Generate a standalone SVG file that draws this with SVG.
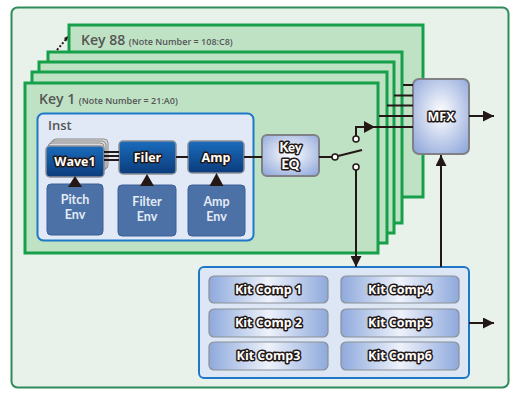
<svg xmlns="http://www.w3.org/2000/svg" width="515" height="400" viewBox="0 0 515 400">
<style>
.key{fill:#bfe2c5;stroke:#16a04a;stroke-width:3}
.ktitle{font-family:"Open Sans","Noto Sans",sans-serif;font-size:14px;fill:#555;font-weight:600}
.ksub{font-size:9px}
.dark{fill:url(#gDark);stroke:#8a8f96;stroke-width:1.5}
.env{fill:#4b71a6;stroke:#3d6197;stroke-width:1}
.envt{font-family:Lato,"Liberation Sans",sans-serif;font-size:12.5px;font-weight:700;fill:#e4ebf6;text-anchor:middle}
.ot{font-family:"Open Sans","Noto Sans",sans-serif;font-weight:700;fill:#fff;stroke:#231815;stroke-width:3;paint-order:stroke;stroke-linejoin:round;text-anchor:middle}
.ot2{font-family:Lato,"Liberation Sans",sans-serif;font-weight:900;fill:#fff;stroke:#231815;stroke-width:3;paint-order:stroke;stroke-linejoin:round;text-anchor:middle}
.ln{stroke:#231815;stroke-width:2;fill:none}
.comp{fill:url(#gComp);stroke:#8a8f96;stroke-width:1.2}
.card{fill:#dcdcdc;stroke:#8a8a8a;stroke-width:1}
.tri{fill:#231815}
</style>
<defs>
<linearGradient id="gDark" x1="0" y1="0" x2="0" y2="1">
<stop offset="0" stop-color="#1a6cbc"/>
<stop offset="1" stop-color="#0b3c7c"/>
</linearGradient>
<radialGradient id="gFx" cx="0.5" cy="0.45" r="0.7">
<stop offset="0" stop-color="#ffffff"/>
<stop offset="1" stop-color="#8ea6da"/>
</radialGradient>
<linearGradient id="gComp" x1="0" y1="0" x2="1" y2="0">
<stop offset="0" stop-color="#8ea9dc"/>
<stop offset="0.5" stop-color="#eef2fb"/>
<stop offset="1" stop-color="#8ea9dc"/>
</linearGradient>
<marker id="ah" viewBox="0 0 10 10" refX="10" refY="5" markerWidth="11" markerHeight="11" markerUnits="userSpaceOnUse" orient="auto">
<path d="M0,0 L10,5 L0,10 Z" fill="#231815"/>
</marker>
</defs>

<rect id="frame" x="11.5" y="7.5" width="497" height="380" rx="6" fill="#e8f2eb" stroke="#2e8b5a" stroke-width="2"/>

<g id="key88">
<rect class="key" x="69" y="25" width="354" height="172"/>
<text class="ktitle" x="81" y="45">Key 88 <tspan class="ksub">(Note Number = 108:C8)</tspan></text>
</g>
<g id="key-layer2"><rect class="key" x="48" y="52" width="354" height="171"/></g>
<g id="key-layer3"><rect class="key" x="39" y="62" width="355" height="171"/></g>
<g id="key-layer4"><rect class="key" x="32" y="72" width="355" height="171"/></g>
<g id="key1">
<rect class="key" x="25" y="83" width="353" height="170"/>
<text class="ktitle" x="39" y="104">Key 1 <tspan class="ksub">(Note Number = 21:A0)</tspan></text>
</g>

<g id="inst">
<rect x="37.5" y="113.5" width="216" height="127" rx="6" fill="#e1e8f6" stroke="#1e78c8" stroke-width="2"/>
<text x="48" y="130" font-family="'Open Sans','Noto Sans',sans-serif" font-size="13" font-weight="600" fill="#555">Inst</text>
</g>

<g id="wave1">
<rect class="card" x="52" y="139" width="56" height="30" rx="4"/>
<rect class="card" x="50" y="141" width="56" height="30" rx="4"/>
<rect class="card" x="48" y="143" width="56" height="31" rx="4"/>
<rect class="dark" x="46" y="146" width="58" height="31" rx="4"/>
<text class="ot" x="75" y="166" font-size="12.5">Wave1</text>
</g>
<g id="filer">
<rect class="dark" x="119" y="141" width="57" height="33" rx="4"/>
<text class="ot" x="147.5" y="162" font-size="12.5">Filer</text>
</g>
<g id="amp">
<rect class="dark" x="188" y="141" width="56" height="32" rx="4"/>
<text class="ot" x="216" y="162" font-size="12.5">Amp</text>
</g>
<g id="pitch-env">
<rect class="env" x="47" y="184" width="56" height="51" rx="4"/>
<text class="envt" x="75" y="204">Pitch</text>
<text class="envt" x="75" y="219">Env</text>
</g>
<g id="filter-env">
<rect class="env" x="118" y="185" width="58" height="51" rx="4"/>
<text class="envt" x="147" y="206">Filter</text>
<text class="envt" x="147" y="221">Env</text>
</g>
<g id="amp-env">
<rect class="env" x="188" y="185" width="57" height="51" rx="4"/>
<text class="envt" x="216.5" y="206">Amp</text>
<text class="envt" x="216.5" y="221">Env</text>
</g>

<g id="key-eq">
<rect x="262" y="135" width="57" height="41" rx="5" fill="url(#gFx)" stroke="#7f8186" stroke-width="2"/>
<text class="ot2" x="290.5" y="152" font-size="13">Key</text>
<text class="ot2" x="290.5" y="169" font-size="13">EQ</text>
</g>

<g id="mfx">
<rect x="413" y="79" width="56" height="75" rx="6" fill="url(#gFx)" stroke="#7f8186" stroke-width="2"/>
<text class="ot" x="441" y="121" font-size="12.5">MFX</text>
</g>

<g id="kit-comps">
<rect x="199" y="267" width="270" height="111" rx="5" fill="#dde6f5" stroke="#1e78c8" stroke-width="2"/>
<rect class="comp" x="209" y="276" width="119" height="27" rx="5"/>
<rect class="comp" x="209" y="309" width="119" height="28" rx="5"/>
<rect class="comp" x="209" y="342" width="119" height="28" rx="5"/>
<rect class="comp" x="341" y="276" width="118" height="27" rx="5"/>
<rect class="comp" x="341" y="309" width="118" height="28" rx="5"/>
<rect class="comp" x="341" y="342" width="118" height="28" rx="5"/>
<text class="ot" x="268.5" y="294" font-size="12.5">Kit Comp 1</text>
<text class="ot" x="268.5" y="327" font-size="12.5">Kit Comp 2</text>
<text class="ot" x="268.5" y="360" font-size="12.5">Kit Comp3</text>
<text class="ot" x="400" y="294" font-size="12.5">Kit Comp4</text>
<text class="ot" x="400" y="327" font-size="12.5">Kit Comp5</text>
<text class="ot" x="400" y="360" font-size="12.5">Kit Comp6</text>
</g>

<g id="connectors">
<line class="ln" x1="57" y1="50" x2="67" y2="38" stroke-dasharray="2,2"/>
<path d="M68,36 L64,38 L67,41 Z" fill="#231815"/>
<line class="ln" x1="104" y1="152" x2="119" y2="152"/>
<line class="ln" x1="104" y1="156" x2="119" y2="156"/>
<line class="ln" x1="104" y1="160" x2="119" y2="160"/>
<line class="ln" x1="176" y1="157" x2="188" y2="157"/>
<line class="ln" x1="244" y1="157" x2="262" y2="157"/>
<path class="tri" d="M75,176 L68,187 L82,187 Z"/>
<path class="tri" d="M147,174 L140,186 L154,186 Z"/>
<path class="tri" d="M216.5,173 L209.5,186 L223.5,186 Z"/>
<line class="ln" x1="319" y1="157" x2="332" y2="157"/>
<line class="ln" x1="338" y1="156" x2="362" y2="150"/>
<circle cx="335" cy="157" r="3" fill="#fff" stroke="#231815" stroke-width="1.5"/>
<circle cx="356" cy="139" r="3" fill="#fff" stroke="#231815" stroke-width="1.5"/>
<circle cx="356" cy="167" r="3" fill="#fff" stroke="#231815" stroke-width="1.5"/>
<path class="ln" d="M356,136 V127 H413"/>
<path class="tri" d="M375,127 L364,121 L364,133 Z"/>
<line class="ln" x1="356" y1="170" x2="356" y2="267" marker-end="url(#ah)"/>
<line class="ln" x1="403" y1="85" x2="413" y2="85"/>
<line class="ln" x1="394" y1="95.5" x2="413" y2="95.5"/>
<line class="ln" x1="387" y1="105.5" x2="413" y2="105.5"/>
<line class="ln" x1="379" y1="116" x2="413" y2="116"/>
<line class="ln" x1="469" y1="116" x2="494" y2="116" marker-end="url(#ah)"/>
<line class="ln" x1="441" y1="267" x2="441" y2="155" marker-end="url(#ah)"/>
<line class="ln" x1="469" y1="323" x2="494" y2="323" marker-end="url(#ah)"/>
</g>
</svg>
